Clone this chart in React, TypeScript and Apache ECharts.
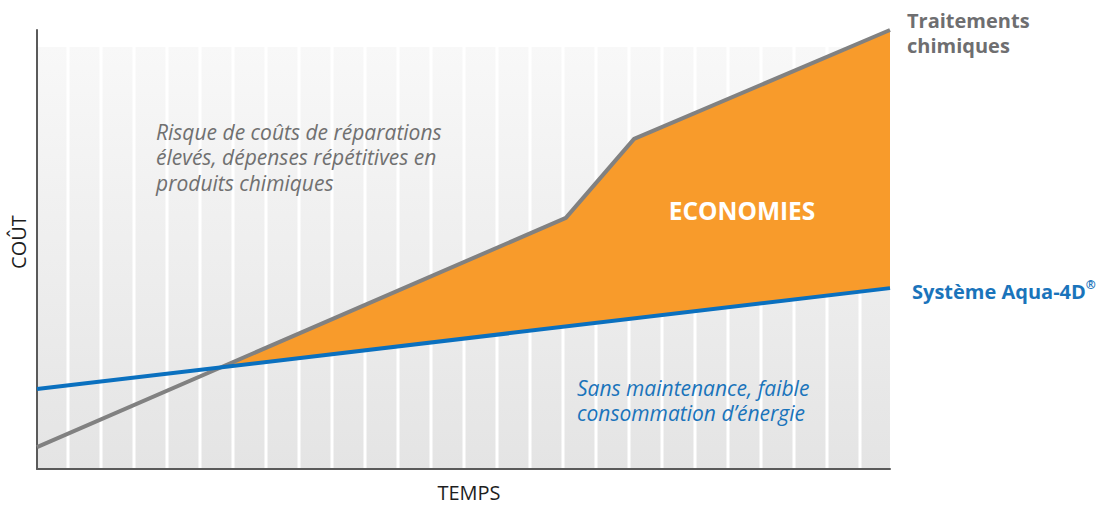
import React, { useEffect, useRef } from "react";
import * as echarts from "echarts";

// Data (arbitrary units: TEMPS 0..100, COÛT 0..100)
const traitementsChimiques: [number, number][] = [
  [0, 5],
  [62, 57.2],
  [70, 75.2],
  [100, 100],
];
const systemeAqua4D: [number, number][] = [
  [0, 18.2],
  [100, 41.2],
];
const stripeCount = 25;

const FONT = "'Open Sans', Lato, sans-serif";
const ORANGE = "#F89B2B";
const GRAY_LINE = "#818181";
const BLUE_LINE = "#0a70bf";
const BLUE_TEXT = "#1a74bb";
const GRAY_TEXT = "#6e6e70";

function valueAt(line: [number, number][], x: number): number {
  for (let i = 0; i < line.length - 1; i++) {
    const [x0, y0] = line[i];
    const [x1, y1] = line[i + 1];
    if (x >= x0 && x <= x1) return y0 + ((y1 - y0) * (x - x0)) / (x1 - x0);
  }
  return line[line.length - 1][1];
}

function savingsPolygon(): [number, number][] {
  let xi = 0;
  for (let i = 0; i < traitementsChimiques.length - 1; i++) {
    const [x0, y0] = traitementsChimiques[i];
    const [x1, y1] = traitementsChimiques[i + 1];
    const d0 = y0 - valueAt(systemeAqua4D, x0);
    const d1 = y1 - valueAt(systemeAqua4D, x1);
    if (d0 <= 0 && d1 > 0) {
      xi = x0 + ((x1 - x0) * -d0) / (d1 - d0);
      break;
    }
  }
  const pts: [number, number][] = [[xi, valueAt(systemeAqua4D, xi)]];
  traitementsChimiques.forEach((p) => {
    if (p[0] > xi) pts.push(p);
  });
  const last = traitementsChimiques[traitementsChimiques.length - 1][0];
  pts.push([last, valueAt(systemeAqua4D, last)]);
  [...systemeAqua4D].reverse().forEach((p) => {
    if (p[0] > xi && p[0] < last) pts.push(p);
  });
  return pts;
}

export default function App() {
  const ref = useRef<HTMLDivElement>(null);

  useEffect(() => {
    document.body.style.margin = "0";
    if (!ref.current) return;
    const chart = echarts.init(ref.current, null, { renderer: "svg" });

    const gridLeft = 37;
    const gridRight = 890;
    const plotW = gridRight - gridLeft;
    // decorative stripes every 33px, first one 31px from the left axis
    const stripes = Array.from({ length: stripeCount }, (_, k) => [((31 + 33 * k) / plotW) * 100]);

    const option: any = {
      animation: false,
      grid: {
        left: gridLeft,
        right: 1110 - gridRight,
        top: 30,
        bottom: 506 - 469,
        show: true,
        borderWidth: 0,
        backgroundColor: new echarts.graphic.LinearGradient(0, 0, 0, 1, [
          { offset: 0, color: "#ffffff" },
          { offset: 0.038, color: "#ffffff" },
          { offset: 0.039, color: "#f8f8f8" },
          { offset: 1, color: "#e4e4e4" },
        ]),
      },
      xAxis: {
        type: "value",
        min: 0,
        max: 100,
        axisLine: { show: true, lineStyle: { color: "#5a5a5a", width: 2 } },
        axisTick: { show: false },
        axisLabel: { show: false },
        splitLine: { show: false },
      },
      yAxis: {
        type: "value",
        min: 0,
        max: 100,
        axisLine: { show: true, lineStyle: { color: "#5a5a5a", width: 2 } },
        axisTick: { show: false },
        axisLabel: { show: false },
        splitLine: { show: false },
      },
      series: [
        {
          type: "custom",
          name: "stripes",
          z: 1,
          silent: true,
          data: stripes,
          renderItem: (_p: any, api: any) => {
            const b = api.coord([api.value(0), 0]);
            const t = api.coord([api.value(0), 100]);
            return {
              type: "rect",
              shape: { x: b[0] - 1.5, y: t[1], width: 3, height: b[1] - t[1] - 1 },
              style: { fill: "#ffffff" },
            };
          },
        },
        {
          type: "custom",
          name: "ECONOMIES",
          z: 3,
          silent: true,
          data: [[0]],
          renderItem: (_p: any, api: any) => {
            const pts = savingsPolygon().map((p) => api.coord(p));
            return {
              type: "polygon",
              shape: { points: pts },
              style: { fill: ORANGE },
            };
          },
        },
        {
          type: "line",
          name: "Traitements chimiques",
          z: 4,
          clip: false,
          symbol: "none",
          data: traitementsChimiques,
          lineStyle: { color: GRAY_LINE, width: 4 },
        },
        {
          type: "line",
          name: "Système Aqua-4D",
          z: 5,
          clip: false,
          symbol: "none",
          data: systemeAqua4D,
          lineStyle: { color: BLUE_LINE, width: 4 },
        },
      ],
      graphic: [
        {
          type: "text",
          x: 907,
          y: 8,
          style: {
            text: "Traitements\nchimiques",
            fontFamily: FONT,
            fontWeight: "bold",
            fontSize: 20,
            lineHeight: 25,
            fill: GRAY_TEXT,
            textAlign: "left",
            textVerticalAlign: "top",
          },
        },
        {
          type: "text",
          x: 912,
          y: 291,
          style: {
            text: "{m|Système Aqua-4D}{s|®}",
            fontFamily: FONT,
            textAlign: "left",
            textVerticalAlign: "middle",
            rich: {
              m: { fontFamily: FONT, fontWeight: "bold", fontSize: 20, fill: BLUE_TEXT, color: BLUE_TEXT, lineHeight: 26 },
              s: { fontFamily: FONT, fontWeight: "bold", fontSize: 12, fill: BLUE_TEXT, color: BLUE_TEXT, verticalAlign: "top", lineHeight: 26 },
            },
          },
        },
        {
          type: "text",
          x: 742,
          y: 210,
          z: 10,
          style: {
            text: "ECONOMIES",
            fontFamily: FONT,
            fontWeight: "bold",
            fontSize: 24.5,
            fill: "#ffffff",
            textAlign: "center",
            textVerticalAlign: "middle",
          },
        },
        {
          type: "text",
          x: 156,
          y: 119,
          z: 10,
          style: {
            text: "Risque de coûts de réparations\nélevés, dépenses répétitives en\nproduits chimiques",
            fontFamily: FONT,
            fontStyle: "italic",
            fontSize: 21,
            lineHeight: 25.5,
            fill: "#707070",
            textAlign: "left",
            textVerticalAlign: "top",
          },
        },
        {
          type: "text",
          x: 577,
          y: 375,
          z: 10,
          style: {
            text: "Sans maintenance, faible\nconsommation d’énergie",
            fontFamily: FONT,
            fontStyle: "italic",
            fontSize: 21,
            lineHeight: 25.5,
            fill: BLUE_TEXT,
            textAlign: "left",
            textVerticalAlign: "top",
          },
        },
        {
          type: "text",
          x: 469,
          y: 492,
          style: {
            text: "TEMPS",
            fontFamily: FONT,
            fontSize: 20,
            lineHeight: 20,
            fill: "#1e1e1e",
            textAlign: "center",
            textVerticalAlign: "middle",
          },
        },
        {
          type: "text",
          x: 18,
          y: 242,
          rotation: Math.PI / 2,
          style: {
            text: "COÛT",
            fontFamily: FONT,
            fontSize: 20,
            lineHeight: 20,
            fill: "#1e1e1e",
            textAlign: "center",
            textVerticalAlign: "middle",
          },
        },
      ],
    };

    chart.setOption(option);
    return () => chart.dispose();
  }, []);

  return <div ref={ref} style={{ width: 1110, height: 506 }} />;
}
